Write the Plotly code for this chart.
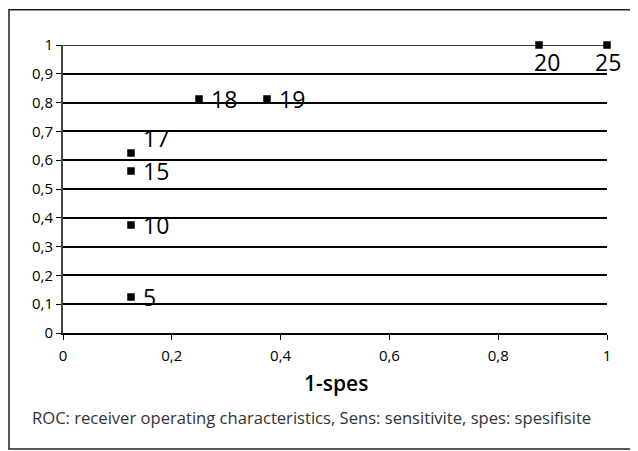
import plotly.graph_objects as go

# Data (1-specificity, sensitivity) and cut-off labels
fpr = [0.125, 0.125, 0.125, 0.125, 0.25, 0.375, 0.875, 1.0]
sens = [0.125, 0.375, 0.5625, 0.625, 0.8125, 0.8125, 1.0, 1.0]
labels = ["5", "10", "15", "17", "18", "19", "20", "25"]
x_ticks = [0, 0.2, 0.4, 0.6, 0.8, 1]
x_ticktext = ["0", "0,2", "0,4", "0,6", "0,8", "1"]
y_ticks = [0, 0.1, 0.2, 0.3, 0.4, 0.5, 0.6, 0.7, 0.8, 0.9, 1]
y_ticktext = ["0", "0,1", "0,2", "0,3", "0,4", "0,5", "0,6", "0,7", "0,8", "0,9", "1"]
x_title = "1-spes"
caption = "ROC: receiver operating characteristics, Sens: sensitivite, spes: spesifisite"

# label placement styles (offsets in px)
label_style = {
    "17": dict(xanchor="left", yanchor="middle", xshift=10, yshift=15),
    "20": dict(xanchor="center", yanchor="middle", xshift=8, yshift=-17),
    "25": dict(xanchor="center", yanchor="middle", xshift=1, yshift=-17),
}
default_style = dict(xanchor="left", yanchor="middle", xshift=10, yshift=0)

FONT = "Open Sans"

fig = go.Figure()
fig.add_trace(go.Scatter(
    x=fpr, y=sens, mode="markers",
    marker=dict(symbol="square", size=7.5, color="black"),
    cliponaxis=False, showlegend=False, hoverinfo="skip",
))

for xv, yv, lab in zip(fpr, sens, labels):
    st = label_style.get(lab, default_style)
    fig.add_annotation(x=xv, y=yv, text=lab, showarrow=False,
                       font=dict(family=FONT, size=23, color="black"), **st)

fig.add_annotation(xref="paper", yref="paper", x=0.502, y=-0.174, text=x_title,
                   showarrow=False, xanchor="center", yanchor="middle",
                   font=dict(family=FONT, size=21, color="black", weight=600))
fig.add_annotation(xref="paper", yref="paper", x=-0.0607, y=-0.292, text=caption,
                   showarrow=False, xanchor="left", yanchor="middle",
                   font=dict(family=FONT, size=16.6, color="#333333"))

# top gridline (at the top tick, coincides with the axis range edge)
fig.add_shape(type="line", xref="paper", yref="y", x0=0, x1=1,
              y0=y_ticks[-1], y1=y_ticks[-1],
              line=dict(color="black", width=1.5), layer="below")

# outer frame
fig.add_shape(type="rect", xref="paper", yref="paper",
              x0=-0.0993, x1=1.1, y0=-0.403, y1=1.122,
              line=dict(color="#222222", width=1.5), layer="below")

fig.update_layout(
    width=638, height=451,
    margin=dict(l=55, r=39, t=37, b=126),
    paper_bgcolor="white", plot_bgcolor="white",
    font=dict(family=FONT, size=15, color="black"),
    xaxis=dict(range=[0, 1], tickvals=x_ticks, ticktext=x_ticktext,
               showgrid=False, zeroline=False, showline=True, linecolor="black",
               linewidth=2, ticks="outside", ticklen=5, tickwidth=1,
               tickcolor="black", tickfont=dict(size=15),
               ticklabelstandoff=3),
    yaxis=dict(range=[0, 1], tickvals=y_ticks, ticktext=y_ticktext,
               showgrid=True, gridcolor="black", gridwidth=1.5,
               zeroline=False, showline=True, linecolor="#444444", linewidth=2,
               ticks="outside", ticklen=5, tickwidth=1, tickcolor="black",
               tickfont=dict(size=15)),
)

fig.write_html("out.html")
